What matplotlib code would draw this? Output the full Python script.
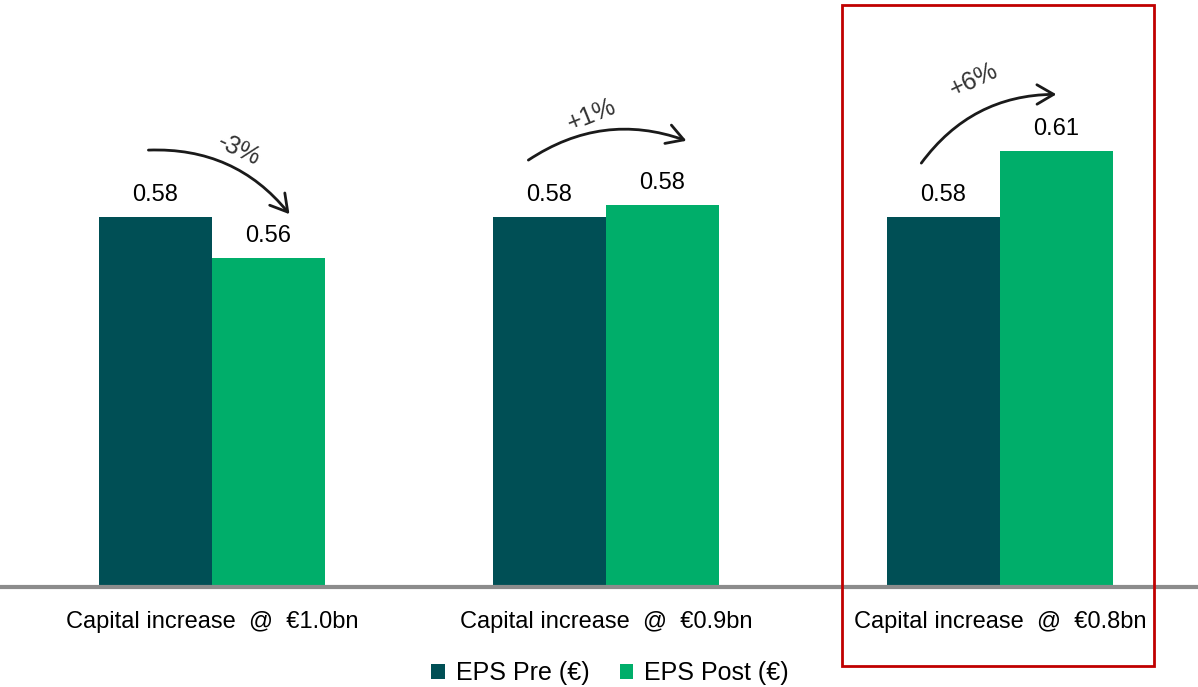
import numpy as np
import matplotlib
matplotlib.use("Agg")
import matplotlib.pyplot as plt
from matplotlib.patches import Rectangle
from matplotlib.transforms import offset_copy

plt.rcParams['font.family'] = ['Liberation Sans', 'DejaVu Sans']

# data
categories = ["Capital increase  @  €1.0bn", "Capital increase  @  €0.9bn", "Capital increase  @  €0.8bn"]
eps_pre = [0.58, 0.58, 0.58]
eps_post = [0.56, 0.586, 0.612]
pre_labels = ["0.58", "0.58", "0.58"]
post_labels = ["0.56", "0.58", "0.61"]
changes = ["-3%", "+1%", "+6%"]

# layout of the hand-drawn arrows (pixel offsets from bar tops)
arrow_start = [(-7, 67), (-21, 57), (-22, 54)]
arrow_end = [(21, 44), (24, 64), (0, 57)]
arrow_rad = [-0.25, -0.25, -0.25]
change_pos = [(84, 67), (42, 102), (30, 137)]
change_rot = [-25, 22, 25]

c_pre = '#004F55'
c_post = '#00AE6A'

fig = plt.figure(figsize=(11.98, 6.87), dpi=100)
ax = fig.add_axes([0, 1 - 587 / 687, 1, 587 / 687])

x = np.arange(len(categories))
w = 0.287
ax.bar(x - w / 2, eps_pre, w, color=c_pre, label='EPS Pre (€)')
ax.bar(x + w / 2, eps_post, w, color=c_post, label='EPS Post (€)')
ax.set_xlim(-0.538, 2.503)
ax.set_ylim(0.40, 0.40 + 587 / 2055)
ax.axis('off')
ax.axhline(0.40, color='#8c8c8c', lw=3, clip_on=False)

for i in range(len(x)):
    ax.annotate(pre_labels[i], (x[i] - w / 2, eps_pre[i]), xytext=(0, 8),
                textcoords='offset points', ha='center', va='bottom', fontsize=17)
    ax.annotate(post_labels[i], (x[i] + w / 2, eps_post[i]), xytext=(0, 8),
                textcoords='offset points', ha='center', va='bottom', fontsize=17)
    ax.text(x[i], -35 / 587, categories[i], transform=ax.get_xaxis_transform(),
            ha='center', va='center', fontsize=17)

    sx, sy = arrow_start[i]
    ex, ey = arrow_end[i]
    ax.annotate('', xy=(x[i] + w / 2, eps_post[i]),
                xycoords=offset_copy(ax.transData, fig=fig, x=ex, y=ey, units='dots'),
                xytext=(x[i] - w / 2, eps_pre[i]),
                textcoords=offset_copy(ax.transData, fig=fig, x=sx, y=sy, units='dots'),
                arrowprops=dict(arrowstyle='->,head_length=0.6,head_width=0.35',
                                connectionstyle=f'arc3,rad={arrow_rad[i]}',
                                lw=2, color='#1a1a1a', mutation_scale=20,
                                shrinkA=0, shrinkB=0))
    tx, ty = change_pos[i]
    ax.text(x[i] - w / 2, eps_pre[i], changes[i],
            transform=offset_copy(ax.transData, fig=fig, x=tx, y=ty, units='dots'),
            ha='center', va='center', fontsize=18, rotation=change_rot[i], color='#333333')

# highlight box around the last scenario
fig.add_artist(Rectangle((842 / 1198, 1 - 666 / 687), (1154 - 842) / 1198, (666 - 5) / 687,
                         transform=fig.transFigure, fill=False, edgecolor='#C00000', lw=2))

fig.legend(loc='center', bbox_to_anchor=(610 / 1198, 1 - 673 / 687), ncol=2, frameon=False,
           fontsize=18, handlelength=0.55, handleheight=0.55, handletextpad=0.45,
           columnspacing=1.2)

fig.savefig('out.png', dpi=100)
